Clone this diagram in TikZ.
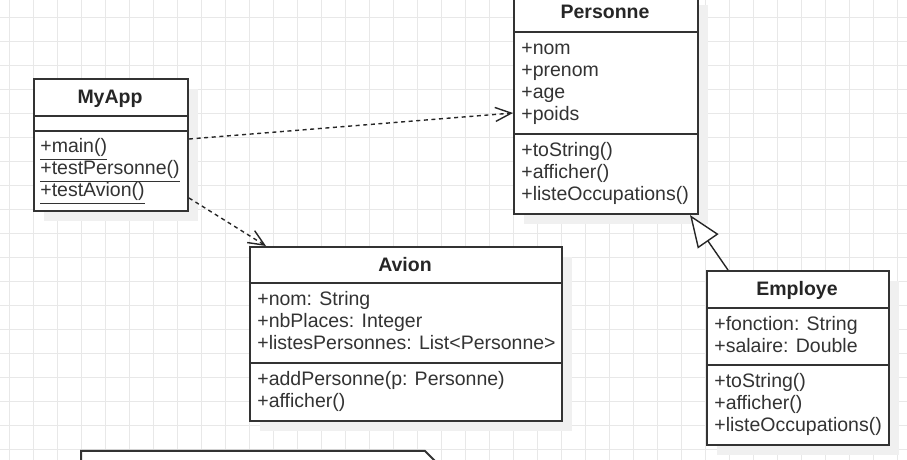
\documentclass[tikz,border=0pt]{standalone}
\usepackage{fontspec}
\setmainfont{Liberation Sans}
\usetikzlibrary{arrows.meta,shadows}

\newcommand{\umlfont}{\fontsize{9.75pt}{11pt}\selectfont}

\tikzset{
  umlclass/.style={draw=black!80, line width=1pt, fill=white, anchor=north west, inner sep=0pt,
    drop shadow={shadow xshift=5pt, shadow yshift=-5pt, fill=black!6, opacity=1}},
  umltitle/.style={anchor=base, inner sep=0pt, font=\umlfont\bfseries, text=black!85},
  umlmember/.style={anchor=base west, inner sep=0pt, text=black!80},
  divider/.style={draw=black!80, line width=1pt},
  gridline/.style={draw=black!9, line width=0.5pt},
  usesarrow/.style={draw=black!85, line width=0.7pt, dash pattern=on 2pt off 1.8pt,
    -{Straight Barb[length=8pt,width=7pt]}},
  inherits/.style={draw=black!85, line width=0.7pt, -{Triangle[length=16pt,width=12.5pt,fill=white]}}
}

\begin{document}
\begin{tikzpicture}[x=0.5pt, y=-0.5pt, font=\umlfont]
  \clip (0,0) rectangle (907,460);
  \fill[white] (0,0) rectangle (907,460);
  \foreach \gx in {9,33,...,897} \draw[gridline] (\gx,0) -- (\gx,460);
  \foreach \gy in {18,42,...,450} \draw[gridline] (0,\gy) -- (907,\gy);

  % MyApp
  \node (myapp) [umlclass, minimum width=77pt, minimum height=66pt] at (33,78) {};
  \draw[divider] (33,116) -- (187,116);
  \draw[divider] (33,131) -- (187,131);
  \node (myapp-title) [umltitle] at (110,104) {MyApp};
  \foreach \m [count=\i] in {{+main()},{+testPersonne()},{+testAvion()}}
    \node (myapp-m\i) [umlmember] at (40,{153+22*(\i-1)}) {\underline{\m}};

  % Personne
  \node (personne) [umlclass, minimum width=92pt, minimum height=109.5pt] at (513,-6) {};
  \draw[divider] (513,32) -- (697,32);
  \draw[divider] (513,134) -- (697,134);
  \node (personne-title) [umltitle] at (605,19) {Personne};
  \foreach \a [count=\i] in {{+nom},{+prenom},{+age},{+poids}}
    \node (personne-a\i) [umlmember] at (521,{55+22*(\i-1)}) {\a};
  \foreach \m [count=\i] in {{+toString()},{+afficher()},{+listeOccupations()}}
    \node (personne-m\i) [umlmember] at (521,{157+22*(\i-1)}) {\m};

  % Avion
  \node (avion) [umlclass, minimum width=156pt, minimum height=87pt] at (249,246) {};
  \draw[divider] (249,283) -- (561,283);
  \draw[divider] (249,363) -- (561,363);
  \node (avion-title) [umltitle] at (405,272) {Avion};
  \foreach \a [count=\i] in {{+nom: String},{+nbPlaces: Integer},{+listesPersonnes: List<Personne>}}
    \node (avion-a\i) [umlmember] at (257,{306+22*(\i-1)}) {\a};
  \foreach \m [count=\i] in {{+addPersonne(p: Personne)},{+afficher()}}
    \node (avion-m\i) [umlmember] at (257,{386+22*(\i-1)}) {\m};

  % Employe
  \node (employe) [umlclass, minimum width=91pt, minimum height=87pt] at (706,270) {};
  \draw[divider] (706,308) -- (888,308);
  \draw[divider] (706,365) -- (888,365);
  \node (employe-title) [umltitle] at (797,296) {Employe};
  \foreach \a [count=\i] in {{+fonction: String},{+salaire: Double}}
    \node (employe-a\i) [umlmember] at (714,{331+22*(\i-1)}) {\a};
  \foreach \m [count=\i] in {{+toString()},{+afficher()},{+listeOccupations()}}
    \node (employe-m\i) [umlmember] at (714,{388+22*(\i-1)}) {\m};

  % note (cut off)
  \filldraw[fill=white, draw=black!80, line width=1pt]
    (81,480) -- (81,451) -- (425,451) -- (454,480) -- cycle;

  % relations
  \draw[usesarrow] ([yshift=3pt]myapp.east) -- ([yshift=-4.25pt]personne.west);
  \draw[usesarrow] ([yshift=7pt]myapp.south east) -- ([xshift=8.5pt]avion.north west);
  \draw[inherits] ([xshift=11pt]employe.north west) -- ([xshift=-4.5pt]personne.south east);
\end{tikzpicture}
\end{document}
